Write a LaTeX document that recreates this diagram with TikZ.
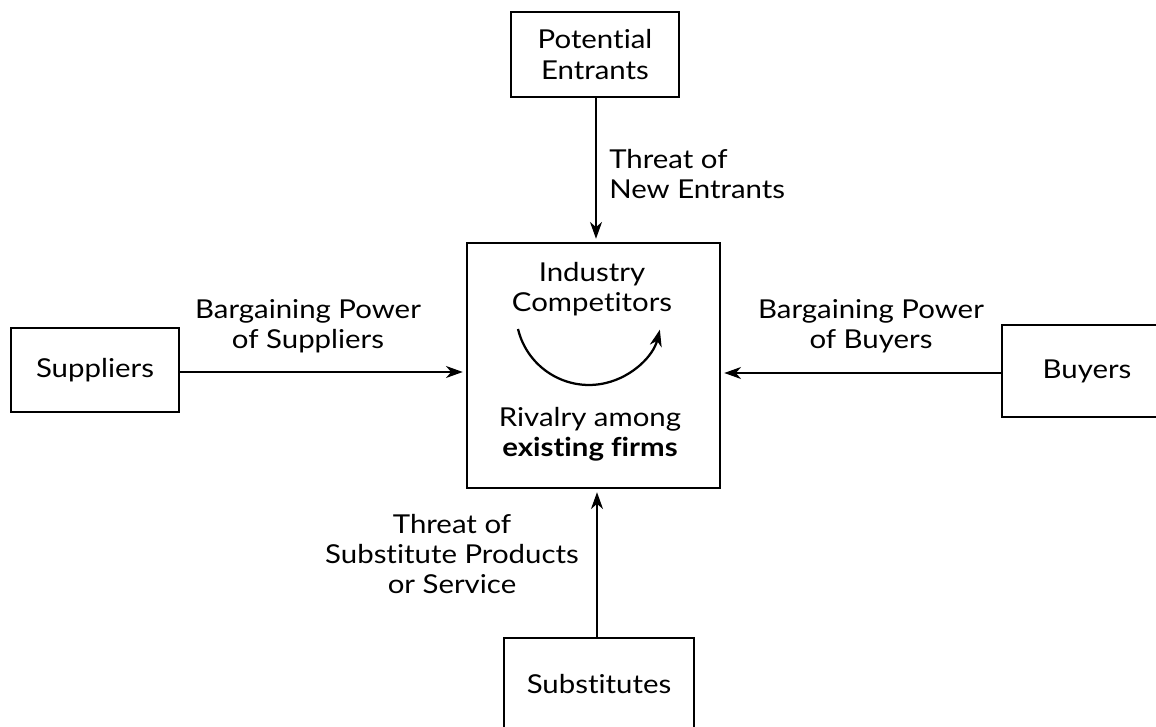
\documentclass[tikz,border=0pt]{standalone}
\usepackage{fontspec}
\setmainfont{Lato}[FakeStretch=1.13, Ligatures=NoCommon]
\usetikzlibrary{arrows.meta, positioning, calc}

\begin{document}
\begin{tikzpicture}[
    x=0.025cm, y=-0.025cm,
    >={Stealth[length=4.2mm, width=3mm, inset=1.3mm]},
    every node/.style={font=\fontsize{18.5}{21.5}\selectfont},
    force/.style={rectangle, draw, line width=2pt, align=center, inner sep=0pt},
    label/.style={align=center, inner sep=0pt},
    push/.style={->, line width=1.3pt, shorten >=2pt}
]

    % --- Marco ---
    \clip (0,0) rectangle (1156,727);

    % --- Nodos ---
    \node[force, minimum width=6.325cm, minimum height=6.125cm] (rivalry) at (593.5, 365.5) {};
    \node[force, minimum width=4.2cm, minimum height=2.125cm] (entrants) at (595, 54.5)
        {Potential\\Entrants};
    \node[force, minimum width=4.2cm, minimum height=2.1cm] (suppliers) at (95, 370)
        {Suppliers};
    \node[force, minimum width=4.25cm, minimum height=2.3cm] (buyers) at (1087, 371)
        {Buyers};
    \node[force, minimum width=4.75cm, minimum height=2.3cm] (substitutes) at (599, 684)
        {Substitutes};

    % --- Textos del centro ---
    \node[label] (industry) at (592, 289) {Industry\\Competitors};
    \node[label] (firms) at (590, 434) {Rivalry among\\\textbf{existing firms}};
    \coordinate (cycleA) at ($(rivalry.center)+(-75.5,-36.5)$);
    \draw[->, line width=1.6pt] (cycleA) arc[start angle=193.5, end angle=346, radius=1.825cm];

    % --- Aristas ---
    \draw[push] (entrants.south -| 596,0) -- (rivalry.north -| 596,0);
    \draw[push] (substitutes.north -| 597,0) -- (rivalry.south -| 597,0);
    \draw[push] (suppliers.east |- 0,372) -- (rivalry.west |- 0,372);
    \draw[push] (buyers.west |- 0,373) -- (rivalry.east |- 0,373);

    % --- Etiquetas ---
    \node[label, anchor=west, align=left] (newent) at (609, 174) {Threat of\\New Entrants};
    \node[label] (powsup) at (308, 326) {Bargaining Power\\of Suppliers};
    \node[label] (powbuy) at (871, 326) {Bargaining Power\\of Buyers};
    \node[label] (subst) at (452, 554) {Threat of\\Substitute Products\\or Service};

\end{tikzpicture}
\end{document}
